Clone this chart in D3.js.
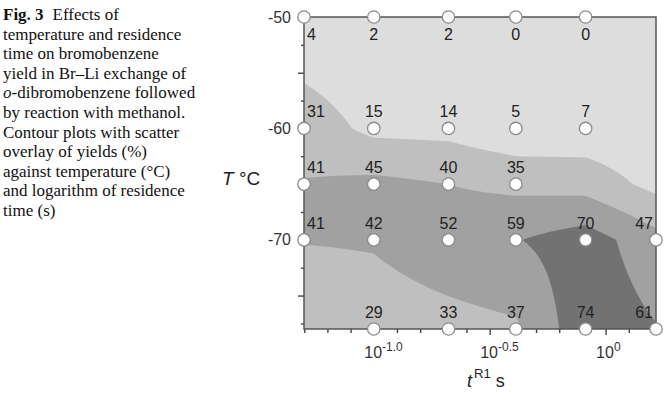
<!DOCTYPE html>
<html><head><meta charset="utf-8">
<script src="https://cdn.jsdelivr.net/npm/d3@7"></script>
<style>html,body{margin:0;padding:0;background:#fff;} svg{display:block;}</style>
</head><body><svg id="chart" width="667" height="393"></svg>
<script>
// ---- data ----
const residenceTimes = [0.05, 0.10, 0.21, 0.41, 0.82, 1.65];   // s (log axis)
const temperatures = [-50, -60, -65, -70, -78];                // °C
const yieldsAtM50 = [4, 2, 2, 0, 0, null];
const yieldsAtM60 = [31, 15, 14, 5, 7, null];
const yieldsAtM65 = [41, 45, 40, 35, null, null];
const yieldsAtM70 = [41, 42, 52, 59, 70, 47];
const yieldsAtM78 = [null, 29, 33, 37, 74, 61];
// surface values under the shading where no point is plotted (estimated from the shading)
const shadeEstimateRow = [0, 1, 2, 2, 4];
const shadeEstimateCol = [5, 5, 4, 5, 0];
const shadeEstimateVal = [0, 4, 32, 14, 22];
const contourLevels = [20, 40, 60];
const contourColors = ["#dddddd", "#bfbfbf", "#a1a1a1", "#727272"];
const yLabelTicks = [-50, -60, -70];
const yMidTicks = [-55, -65, -75];
const yMinorTicks = [-52.5, -57.5, -62.5, -67.5, -72.5, -77.5];
const xMajorExponents = [-1.0, -0.5, 0];
const xMajorLabels = ["-1.0", "-0.5", "0"];
const xMinorExponents = [-1.3, -1.2, -1.1, -0.9, -0.8, -0.7, -0.6, -0.4, -0.3, -0.2, -0.1, 0.1, 0.2];
const captionLines = [
  "temperature and residence",
  "time on bromobenzene",
  "yield in Br\u2013Li exchange of",
  "o-dibromobenzene followed",
  "by reaction with methanol.",
  "Contour plots with scatter",
  "overlay of yields (%)",
  "against temperature (\u00B0C)",
  "and logarithm of residence",
  "time (s)"
];

// ---- layout ----
const svg = d3.select("#chart");
const x0 = 304, x1 = 656, y0 = 17, y1 = 329;
const x = d3.scaleLog().domain([residenceTimes[0], residenceTimes[residenceTimes.length - 1]]).range([x0, x1]);
const y = d3.scaleLinear().domain([temperatures[temperatures.length - 1], temperatures[0]]).range([y1, y0]);

// ---- caption ----
const cap = svg.append("g").attr("font-family", "'Liberation Serif','Times New Roman',serif")
  .attr("font-size", 17).attr("fill", "#111");
const first = cap.append("text").attr("x", 3).attr("y", 20);
first.append("tspan").attr("font-weight", "bold").text("Fig. 3");
first.append("tspan").attr("dx", 9).text("Effects of");
captionLines.forEach((line, i) => {
  const t = cap.append("text").attr("x", 3).attr("y", 20 + (i + 1) * 19.6);
  if (line.startsWith("o-")) {
    t.append("tspan").attr("font-style", "italic").text("o");
    t.append("tspan").text(line.slice(1));
  } else t.text(line);
});

// ---- contour surface ----
const rows = [yieldsAtM50, yieldsAtM60, yieldsAtM65, yieldsAtM70, yieldsAtM78].map(r => r.slice());
shadeEstimateRow.forEach((r, k) => { rows[r][shadeEstimateCol[k]] = shadeEstimateVal[k]; });
const logT = residenceTimes.map(Math.log10);
const W = x1 - x0, H = y1 - y0, nx = W, ny = H;
const values = new Float64Array(nx * ny);
for (let j = 0; j < ny; j++) {
  const T = y.invert(y0 + (j + 0.5) * H / ny);
  let r = 0;
  while (r < temperatures.length - 2 && temperatures[r + 1] >= T) r++;
  const fy = Math.max(0, Math.min(1, (temperatures[r] - T) / (temperatures[r] - temperatures[r + 1])));
  for (let i = 0; i < nx; i++) {
    const lx = Math.log10(x.invert(x0 + (i + 0.5) * W / nx));
    let c = 0;
    while (c < logT.length - 2 && logT[c + 1] <= lx) c++;
    const fx = Math.max(0, Math.min(1, (lx - logT[c]) / (logT[c + 1] - logT[c])));
    const a = rows[r][c], b = rows[r][c + 1], cc = rows[r + 1][c], d = rows[r + 1][c + 1];
    values[i + j * nx] = (a * (1 - fx) + b * fx) * (1 - fy) + (cc * (1 - fx) + d * fx) * fy;
  }
}
const contours = d3.contours().size([nx, ny]).thresholds(contourLevels)(values);
const proj = d3.geoTransform({ point: function (px, py) { this.stream.point(x0 + px * W / nx, y0 + py * H / ny); } });
const path = d3.geoPath(proj);
svg.append("rect").attr("x", x0).attr("y", y0).attr("width", W).attr("height", H).attr("fill", contourColors[0]);
svg.append("g").selectAll("path").data(contours).join("path")
  .attr("d", path).attr("fill", (d, i) => contourColors[i + 1]).attr("stroke", "none");

// ---- axes ----
const axisStyle = g => {
  g.select(".domain").remove();
  g.selectAll(".tick line").attr("stroke", "#444").attr("stroke-width", 1.4);
  g.selectAll("text").attr("fill", "#333").attr("font-family", "'Liberation Sans',Arial,sans-serif").attr("font-size", 16);
};
svg.append("g").attr("transform", `translate(${x0},0)`)
  .call(d3.axisLeft(y).tickValues(yLabelTicks).tickSize(6).tickPadding(7).tickFormat(d => d)).call(axisStyle);
svg.append("g").attr("transform", `translate(${x0},0)`)
  .call(d3.axisLeft(y).tickValues(yMidTicks).tickSize(6).tickFormat("")).call(axisStyle);
svg.append("g").attr("transform", `translate(${x0},0)`)
  .call(d3.axisLeft(y).tickValues(yMinorTicks).tickSize(3).tickFormat("")).call(axisStyle);

const xMajor = svg.append("g").attr("transform", `translate(0,${y1})`)
  .call(d3.axisBottom(x).tickValues(xMajorExponents.map(e => Math.pow(10, e))).tickSize(6).tickPadding(12).tickFormat(() => "10"))
  .call(axisStyle);
xMajor.selectAll(".tick text").each(function (d, i) {
  d3.select(this).attr("text-anchor", "start").attr("x", -10)
    .append("tspan").attr("dy", -7).attr("font-size", 12).text(xMajorLabels[i]);
});
svg.append("g").attr("transform", `translate(0,${y1})`)
  .call(d3.axisBottom(x).tickValues(xMinorExponents.map(e => Math.pow(10, e))).tickSize(4).tickFormat(""))
  .call(axisStyle);

// frame
svg.append("rect").attr("x", x0).attr("y", y0).attr("width", W).attr("height", H)
  .attr("fill", "none").attr("stroke", "#555").attr("stroke-width", 1.5);

// axis titles
const yt = svg.append("text").attr("x", 222).attr("y", 185)
  .attr("font-family", "'Liberation Sans',Arial,sans-serif").attr("font-size", 19).attr("fill", "#222");
yt.append("tspan").attr("font-style", "italic").text("T");
yt.append("tspan").text(" \u00B0C");
const xt = svg.append("text").attr("x", 467).attr("y", 387)
  .attr("font-family", "'Liberation Sans',Arial,sans-serif").attr("font-size", 18).attr("fill", "#222");
xt.append("tspan").attr("font-style", "italic").text("t");
xt.append("tspan").attr("dx", 2).attr("dy", -9).attr("font-size", 13).text("R1");
xt.append("tspan").attr("dy", 9).text(" s");

// ---- scatter points & labels ----
const points = [];
[yieldsAtM50, yieldsAtM60, yieldsAtM65, yieldsAtM70, yieldsAtM78].forEach((row, r) => {
  row.forEach((v, c) => { if (v !== null) points.push({ t: residenceTimes[c], T: temperatures[r], v, r, c }); });
});
svg.append("g").selectAll("circle").data(points).join("circle")
  .attr("cx", d => x(d.t)).attr("cy", d => y(d.T)).attr("r", 6.2)
  .attr("fill", "#fff").attr("stroke", "#8a8a8a").attr("stroke-width", 1.3);
const lastCol = residenceTimes.length - 1;
svg.append("g").attr("font-family", "'Liberation Sans',Arial,sans-serif").attr("font-size", 16).attr("fill", "#222")
  .selectAll("text").data(points).join("text")
  .attr("x", d => d.c === 0 ? x(d.t) + 3 : d.c === lastCol ? x(d.t) - 3 : x(d.t))
  .attr("y", d => d.r === 0 ? y(d.T) + 23 : y(d.T) - 11)
  .attr("text-anchor", d => d.c === 0 ? "start" : d.c === lastCol ? "end" : "middle")
  .text(d => d.v);
</script>
</body></html>
